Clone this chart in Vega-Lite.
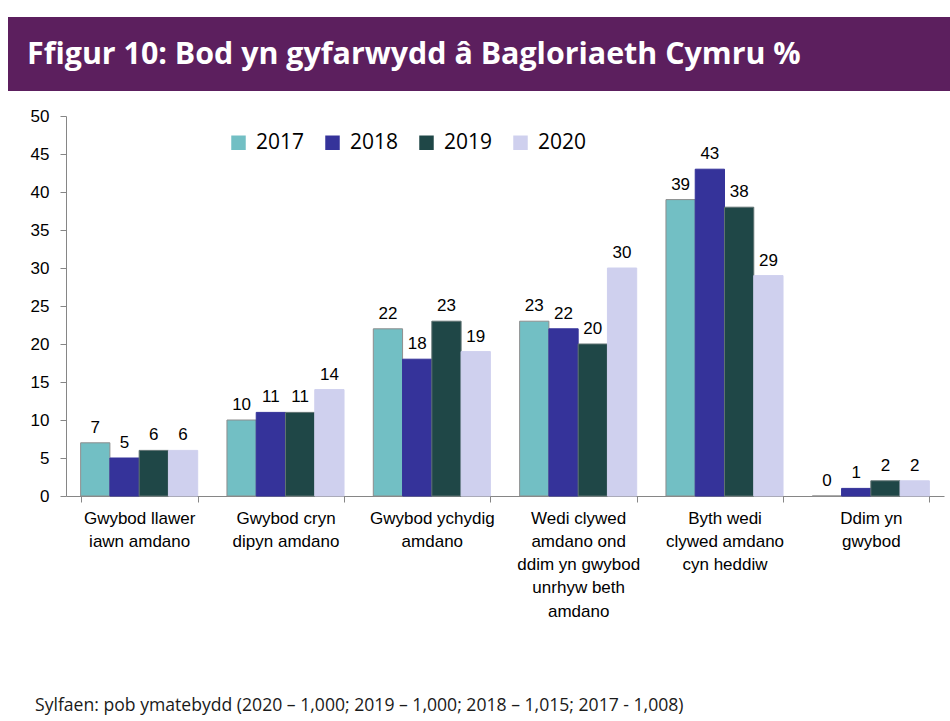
{
  "$schema": "https://vega.github.io/schema/vega-lite/v6.json",
  "background": "white",
  "padding": {"left": 8, "top": 17, "right": 0, "bottom": 0},
  "spacing": 16,
  "config": {"view": {"stroke": null}, "font": "Liberation Sans"},
  "title": {
    "text": "Sylfaen: pob ymatebydd (2020 – 1,000; 2019 – 1,000; 2018 – 1,015; 2017 - 1,008)",
    "orient": "bottom", "anchor": "start", "font": "Open Sans", "fontSize": 17.6,
    "fontWeight": "normal", "color": "#1a1a1a", "offset": 78, "dx": 27
  },
  "vconcat": [
    {
      "width": 942,
      "height": 74,
      "view": {"fill": "#5C1F5E", "stroke": null},
      "data": {"values": [{"heading": "Ffigur 10: Bod yn gyfarwydd â Bagloriaeth Cymru %"}]},
      "mark": {"type": "text", "align": "left", "baseline": "middle", "dx": -452, "dy": 1,
               "font": "Open Sans", "fontWeight": "bold", "fontSize": 30.4, "color": "white"},
      "encoding": {"text": {"field": "heading"}}
    },
    {
      "spacing": 21,
      "hconcat": [
        {
          "width": 1,
          "height": 380,
          "data": {"values": []},
          "mark": {"type": "point", "opacity": 0},
          "encoding": {}
        },
        {
          "width": 878,
          "height": 380,
          "data": {"values": [
            {"cat": "Gwybod llawer|iawn amdano", "year": "2017", "value": 7},
            {"cat": "Gwybod llawer|iawn amdano", "year": "2018", "value": 5},
            {"cat": "Gwybod llawer|iawn amdano", "year": "2019", "value": 6},
            {"cat": "Gwybod llawer|iawn amdano", "year": "2020", "value": 6},
            {"cat": "Gwybod cryn|dipyn amdano", "year": "2017", "value": 10},
            {"cat": "Gwybod cryn|dipyn amdano", "year": "2018", "value": 11},
            {"cat": "Gwybod cryn|dipyn amdano", "year": "2019", "value": 11},
            {"cat": "Gwybod cryn|dipyn amdano", "year": "2020", "value": 14},
            {"cat": "Gwybod ychydig|amdano", "year": "2017", "value": 22},
            {"cat": "Gwybod ychydig|amdano", "year": "2018", "value": 18},
            {"cat": "Gwybod ychydig|amdano", "year": "2019", "value": 23},
            {"cat": "Gwybod ychydig|amdano", "year": "2020", "value": 19},
            {"cat": "Wedi clywed|amdano ond|ddim yn gwybod|unrhyw beth|amdano", "year": "2017", "value": 23},
            {"cat": "Wedi clywed|amdano ond|ddim yn gwybod|unrhyw beth|amdano", "year": "2018", "value": 22},
            {"cat": "Wedi clywed|amdano ond|ddim yn gwybod|unrhyw beth|amdano", "year": "2019", "value": 20},
            {"cat": "Wedi clywed|amdano ond|ddim yn gwybod|unrhyw beth|amdano", "year": "2020", "value": 30},
            {"cat": "Byth wedi|clywed amdano|cyn heddiw", "year": "2017", "value": 39},
            {"cat": "Byth wedi|clywed amdano|cyn heddiw", "year": "2018", "value": 43},
            {"cat": "Byth wedi|clywed amdano|cyn heddiw", "year": "2019", "value": 38},
            {"cat": "Byth wedi|clywed amdano|cyn heddiw", "year": "2020", "value": 29},
            {"cat": "Ddim yn|gwybod", "year": "2017", "value": 0},
            {"cat": "Ddim yn|gwybod", "year": "2018", "value": 1},
            {"cat": "Ddim yn|gwybod", "year": "2019", "value": 2},
            {"cat": "Ddim yn|gwybod", "year": "2020", "value": 2}
          ]},
          "encoding": {
            "x": {
              "field": "cat", "type": "nominal", "sort": null,
              "scale": {"paddingInner": 0.2, "paddingOuter": 0.1},
              "axis": {
                "title": null, "labelAngle": 0, "labelExpr": "split(datum.label, '|')",
                "labelFont": "Liberation Sans", "labelFontSize": 17, "labelLineHeight": 23.3,
                "labelColor": "black", "labelPadding": 8, "labelLimit": 0,
                "tickBand": "extent", "tickSize": 6, "tickColor": "#868686",
                "domainColor": "#868686", "grid": false
              }
            },
            "xOffset": {
              "field": "year", "type": "nominal", "sort": ["2017", "2018", "2019", "2020"],
              "scale": {"paddingInner": 0, "paddingOuter": 0}
            },
            "y": {
              "field": "value", "type": "quantitative",
              "scale": {"domain": [0, 50], "nice": false},
              "axis": {
                "title": null,
                "values": [0, 5, 10, 15, 20, 25, 30, 35, 40, 45, 50],
                "labelFont": "Liberation Sans", "labelFontSize": 17, "labelColor": "black",
                "labelPadding": 11, "tickSize": 6, "tickColor": "#868686",
                "domainColor": "#868686", "grid": false
              }
            }
          },
          "layer": [
            {
              "mark": {"type": "bar", "strokeWidth": 1},
              "encoding": {
                "color": {
                  "field": "year", "type": "nominal",
                  "scale": {"domain": ["2017", "2018", "2019", "2020"],
                            "range": ["#72BFC4", "#35339A", "#1F4747", "#CFD0EE"]},
                  "legend": {
                    "title": null, "orient": "none", "legendX": 220, "legendY": 115,
                    "direction": "horizontal", "columns": 4, "padding": 0,
                    "symbolType": "square", "symbolSize": 210, "symbolStrokeWidth": 0,
                    "labelFont": "Open Sans", "labelFontSize": 21, "labelColor": "black",
                    "labelOffset": 7, "columnPadding": 17
                  }
                },
                "stroke": {
                  "field": "year", "type": "nominal",
                  "scale": {"domain": ["2017", "2018", "2019", "2020"],
                            "range": ["#8E8E8E", "#35339A", "#5F7272", "#CFD0EE"]},
                  "legend": null
                }
              }
            },
            {
              "mark": {"type": "text", "baseline": "alphabetic", "dy": -10,
                       "font": "Liberation Sans", "fontSize": 17, "color": "black"},
              "encoding": {"text": {"field": "value", "type": "quantitative"}}
            }
          ]
        }
      ]
    }
  ]
}
